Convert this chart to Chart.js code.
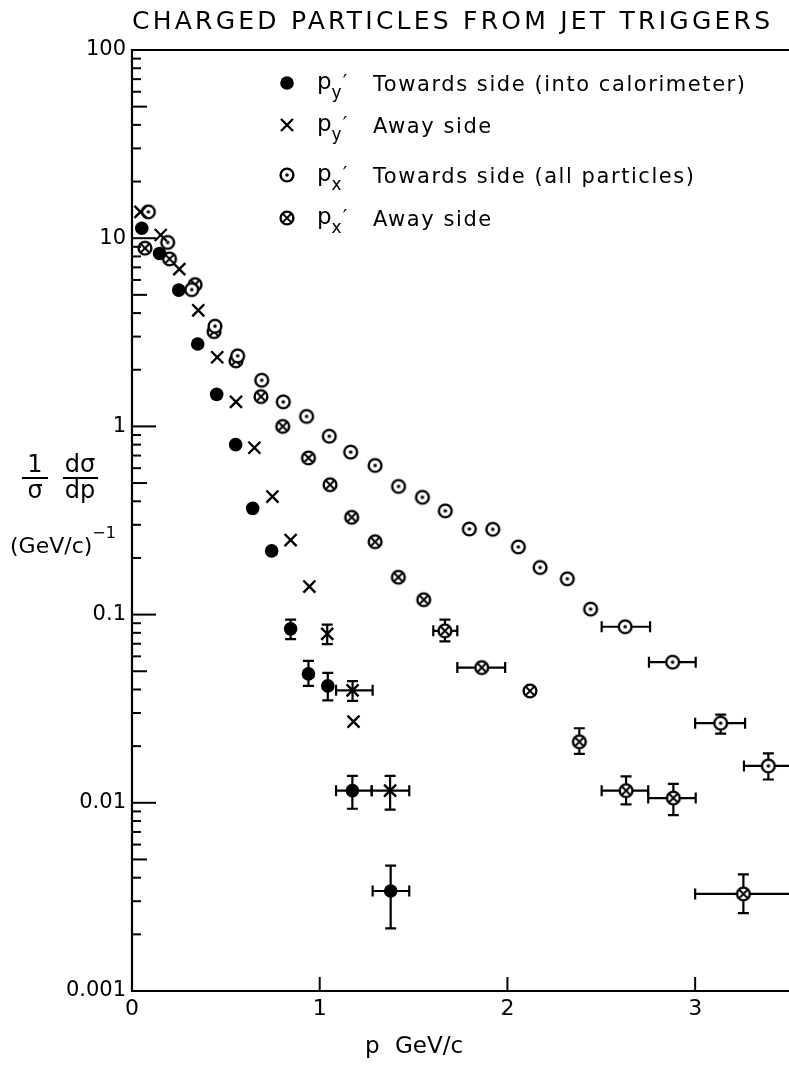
<!DOCTYPE html>
<html><head><meta charset="utf-8">
<script src="https://cdn.jsdelivr.net/npm/chart.js@4"></script>
<style>html,body{margin:0;padding:0;background:#fff}canvas{display:block}</style>
</head><body>
<canvas id="c" width="789" height="1070"></canvas>
<script>
// ---------- text & ticks ----------
const chartTitle = 'CHARGED PARTICLES FROM JET TRIGGERS';
const xTickValues = [0, 1, 2, 3];
const xTickLabels = ['0', '1', '2', '3'];
const yTickDecades = [0.001, 0.01, 0.1, 1, 10, 100];
const yTickLabels = ['0.001', '0.01', '0.1', '1', '10', '100'];
const xAxisTitle = ['p', 'GeV/c'];
const legendSubs = ['y', 'y', 'x', 'x'];
const legendTexts = ['Towards side (into calorimeter)', 'Away side', 'Towards side (all particles)', 'Away side'];

// ---------- series 1: p_y' towards side (filled circles) ----------
const pyTowardsX = [0.052, 0.147, 0.249, 0.35, 0.451, 0.552, 0.643, 0.744, 0.845, 0.94, 1.043, 1.174, 1.378];
const pyTowardsY = [11.3, 8.3, 5.3, 2.74, 1.48, 0.80, 0.367, 0.218, 0.084, 0.0484, 0.0418, 0.0116, 0.0034];
const pyTowardsYLo = [null, null, null, null, null, null, null, null, 0.074, 0.0418, 0.035, 0.0093, 0.00215];
const pyTowardsYHi = [null, null, null, null, null, null, null, null, 0.094, 0.0568, 0.049, 0.0139, 0.00464];
const pyTowardsXLo = [null, null, null, null, null, null, null, null, null, null, null, 1.087, 1.282];
const pyTowardsXHi = [null, null, null, null, null, null, null, null, null, null, null, 1.277, 1.477];

// ---------- series 2: p_y' away side (crosses) ----------
const pyAwayX = [0.045, 0.153, 0.252, 0.353, 0.454, 0.554, 0.652, 0.748, 0.845, 0.945, 1.04, 1.175, 1.18, 1.375];
const pyAwayY = [13.8, 10.4, 6.85, 4.14, 2.33, 1.35, 0.77, 0.424, 0.249, 0.141, 0.079, 0.0396, 0.027, 0.0116];
const pyAwayYLo = [null, null, null, null, null, null, null, null, null, null, 0.0697, 0.0348, null, 0.0092];
const pyAwayYHi = [null, null, null, null, null, null, null, null, null, null, 0.0885, 0.0443, null, 0.0139];
const pyAwayXLo = [null, null, null, null, null, null, null, null, null, null, null, 1.087, null, 1.277];
const pyAwayXHi = [null, null, null, null, null, null, null, null, null, null, null, 1.282, null, 1.477];

// ---------- series 3: p_x' towards side (circle with dot) ----------
const pxTowardsX = [0.087, 0.19, 0.318, 0.442, 0.563, 0.691, 0.806, 0.93, 1.051, 1.165, 1.295, 1.42, 1.547, 1.669, 1.797, 1.922, 2.058, 2.174, 2.319, 2.443, 2.627, 2.88, 3.136, 3.39];
const pxTowardsY = [13.8, 9.5, 5.33, 3.41, 2.37, 1.76, 1.35, 1.13, 0.887, 0.73, 0.62, 0.48, 0.42, 0.356, 0.285, 0.284, 0.229, 0.178, 0.155, 0.107, 0.0862, 0.0559, 0.0265, 0.0157];
const pxTowardsYLo = [null, null, null, null, null, null, null, null, null, null, null, null, null, null, null, null, null, null, null, null, null, null, 0.0233, 0.0133];
const pxTowardsYHi = [null, null, null, null, null, null, null, null, null, null, null, null, null, null, null, null, null, null, null, null, null, null, 0.0294, 0.0183];
const pxTowardsXLo = [null, null, null, null, null, null, null, null, null, null, null, null, null, null, null, null, null, null, null, null, 2.502, 2.754, 3.0, 3.26];
const pxTowardsXHi = [null, null, null, null, null, null, null, null, null, null, null, null, null, null, null, null, null, null, null, null, 2.76, 3.003, 3.266, 3.52];

// ---------- series 4: p_x' away side (circle with cross) ----------
const pxAwayX = [0.069, 0.2, 0.336, 0.437, 0.554, 0.687, 0.803, 0.94, 1.055, 1.17, 1.295, 1.419, 1.554, 1.667, 1.863, 2.12, 2.383, 2.632, 2.884, 3.257];
const pxAwayY = [8.85, 7.76, 5.67, 3.19, 2.23, 1.44, 1.0, 0.68, 0.49, 0.329, 0.244, 0.158, 0.12, 0.082, 0.0523, 0.0393, 0.0211, 0.0116, 0.0106, 0.00328];
const pxAwayYLo = [null, null, null, null, null, null, null, null, null, null, null, null, null, 0.072, null, null, 0.0182, 0.0098, 0.0086, 0.00259];
const pxAwayYHi = [null, null, null, null, null, null, null, null, null, null, null, null, null, 0.094, null, null, 0.0249, 0.0138, 0.0126, 0.00417];
const pxAwayXLo = [null, null, null, null, null, null, null, null, null, null, null, null, null, 1.605, 1.733, null, null, 2.502, 2.75, 3.0];
const pxAwayXHi = [null, null, null, null, null, null, null, null, null, null, null, null, null, 1.733, 1.988, null, null, 2.75, 3.003, 3.51];

// ---------- markers ----------
function makeRing(kind) {
  const s = 18, c = document.createElement('canvas');
  c.width = s; c.height = s;
  const g = c.getContext('2d'), cx = s / 2, cy = s / 2, r = 6.4;
  g.strokeStyle = '#000'; g.fillStyle = '#fff'; g.lineWidth = 2.4;
  g.beginPath(); g.arc(cx, cy, r, 0, Math.PI * 2); g.fill(); g.stroke();
  if (kind === 'dot') {
    g.fillStyle = '#000'; g.beginPath(); g.arc(cx, cy, 1.8, 0, Math.PI * 2); g.fill();
  } else {
    const d = r * 0.62; g.lineWidth = 1.9;
    g.beginPath(); g.moveTo(cx - d, cy - d); g.lineTo(cx + d, cy + d);
    g.moveTo(cx + d, cy - d); g.lineTo(cx - d, cy + d); g.stroke();
  }
  return c;
}
const ringDot = makeRing('dot');
const ringCross = makeRing('cross');

function pts(xs, ys) { return xs.map((x, i) => ({ x: x, y: ys[i] })); }

const datasets = [
  { label: "p_y' towards", data: pts(pyTowardsX, pyTowardsY), pointStyle: 'circle', pointRadius: 6.8,
    backgroundColor: '#000', borderColor: '#000', borderWidth: 0,
    eXLo: pyTowardsXLo, eXHi: pyTowardsXHi, eYLo: pyTowardsYLo, eYHi: pyTowardsYHi },
  { label: "p_y' away", data: pts(pyAwayX, pyAwayY), pointStyle: 'crossRot', pointRadius: 8.5,
    backgroundColor: '#000', borderColor: '#000', borderWidth: 2.4,
    eXLo: pyAwayXLo, eXHi: pyAwayXHi, eYLo: pyAwayYLo, eYHi: pyAwayYHi },
  { label: "p_x' towards", data: pts(pxTowardsX, pxTowardsY), pointStyle: ringDot, pointRadius: 7,
    backgroundColor: '#000', borderColor: '#000',
    eXLo: pxTowardsXLo, eXHi: pxTowardsXHi, eYLo: pxTowardsYLo, eYHi: pxTowardsYHi },
  { label: "p_x' away", data: pts(pxAwayX, pxAwayY), pointStyle: ringCross, pointRadius: 7,
    backgroundColor: '#000', borderColor: '#000',
    eXLo: pxAwayXLo, eXHi: pxAwayXHi, eYLo: pxAwayYLo, eYHi: pxAwayYHi }
];

const SANS = '"DejaVu Sans", "Liberation Sans", sans-serif';

const errorBars = {
  id: 'errorBars',
  beforeDatasetsDraw(chart) {
    const { ctx, chartArea: a, scales: { x: xs, y: ys } } = chart;
    ctx.save();
    ctx.beginPath(); ctx.rect(a.left, a.top, a.right - a.left, a.bottom - a.top); ctx.clip();
    ctx.strokeStyle = '#000'; ctx.lineWidth = 2.2;
    const cap = 5.5;
    chart.data.datasets.forEach(ds => {
      ds.data.forEach((p, i) => {
        const px = xs.getPixelForValue(p.x), py = ys.getPixelForValue(p.y);
        if (ds.eYLo[i] != null) {
          const y1 = ys.getPixelForValue(ds.eYLo[i]), y2 = ys.getPixelForValue(ds.eYHi[i]);
          ctx.beginPath();
          ctx.moveTo(px, y1); ctx.lineTo(px, y2);
          ctx.moveTo(px - cap, y1); ctx.lineTo(px + cap, y1);
          ctx.moveTo(px - cap, y2); ctx.lineTo(px + cap, y2);
          ctx.stroke();
        }
        if (ds.eXLo[i] != null) {
          const x1 = xs.getPixelForValue(ds.eXLo[i]), x2 = xs.getPixelForValue(ds.eXHi[i]);
          ctx.beginPath();
          ctx.moveTo(x1, py); ctx.lineTo(x2, py);
          ctx.moveTo(x1, py - cap); ctx.lineTo(x1, py + cap);
          ctx.moveTo(x2, py - cap); ctx.lineTo(x2, py + cap);
          ctx.stroke();
        }
      });
    });
    ctx.restore();
  }
};

function drawSpaced(ctx, text, x, y, target) {
  ctx.letterSpacing = '0px';
  const w = ctx.measureText(text).width;
  const sp = target ? (target - w) / Math.max(1, text.length - 1) : 0;
  ctx.letterSpacing = sp + 'px';
  ctx.fillText(text, x, y);
  ctx.letterSpacing = '0px';
  return sp;
}

const decor = {
  id: 'decor',
  afterDraw(chart) {
    const { ctx, chartArea: a, scales: { x: xs, y: ys } } = chart;
    ctx.save();
    ctx.strokeStyle = '#000'; ctx.fillStyle = '#000'; ctx.lineCap = 'butt';
    // frame
    ctx.lineWidth = 2.2;
    ctx.beginPath();
    ctx.moveTo(a.right, a.top); ctx.lineTo(a.left, a.top); ctx.lineTo(a.left, a.bottom); ctx.lineTo(a.right, a.bottom);
    ctx.stroke();
    // y ticks (inward)
    ctx.lineWidth = 2;
    ys.ticks.forEach(t => {
      const v = t.value, py = ys.getPixelForValue(v);
      const m = Math.round(v / Math.pow(10, Math.floor(Math.log10(v) + 1e-9)));
      const len = m === 1 ? 24 : (m === 5 ? 15 : 9);
      ctx.beginPath(); ctx.moveTo(a.left, py); ctx.lineTo(a.left + len, py); ctx.stroke();
    });
    // x ticks (inward)
    xs.ticks.forEach(t => {
      if (t.value === 0) return;
      const px = xs.getPixelForValue(t.value);
      ctx.beginPath(); ctx.moveTo(px, a.bottom); ctx.lineTo(px, a.bottom - 14); ctx.stroke();
    });

    // title
    ctx.textAlign = 'left'; ctx.textBaseline = 'alphabetic';
    ctx.font = '25px ' + SANS;
    drawSpaced(ctx, chartTitle, 132, 29, 638);

    // legend
    const rows = [83, 125, 175, 218];
    let sp = null;
    rows.forEach((ry, i) => {
      const sx = 287;
      if (i === 0) { ctx.beginPath(); ctx.arc(sx, ry, 6.8, 0, Math.PI * 2); ctx.fill(); }
      else if (i === 1) {
        ctx.lineWidth = 2.4; const d = 6;
        ctx.beginPath(); ctx.moveTo(sx - d, ry - d); ctx.lineTo(sx + d, ry + d);
        ctx.moveTo(sx + d, ry - d); ctx.lineTo(sx - d, ry + d); ctx.stroke();
      } else {
        ctx.drawImage(i === 2 ? ringDot : ringCross, sx - 9, ry - 9);
      }
      ctx.font = '23px ' + SANS;
      ctx.fillText('p', 317, ry + 6);
      const pw = ctx.measureText('p').width;
      ctx.font = '17px ' + SANS;
      ctx.fillText(legendSubs[i], 317 + pw, ry + 15);
      const sw = ctx.measureText(legendSubs[i]).width;
      ctx.font = '20px ' + SANS;
      ctx.fillText('\u2032', 317 + pw + sw + 1, ry + 5);
      ctx.font = '21px ' + SANS;
      if (sp === null) {
        sp = drawSpaced(ctx, legendTexts[i], 373, ry + 8, 372);
      } else {
        ctx.letterSpacing = sp + 'px';
        ctx.fillText(legendTexts[i], 373, ry + 8);
        ctx.letterSpacing = '0px';
      }
    });

    // y axis title: 1/sigma dsigma/dp (GeV/c)^-1
    ctx.textAlign = 'center';
    ctx.font = '24px ' + SANS;
    ctx.fillText('1', 35, 472);
    ctx.fillText('\u03C3', 35, 498);
    ctx.fillText('d\u03C3', 80, 472);
    ctx.fillText('dp', 80, 498);
    ctx.lineWidth = 2;
    ctx.beginPath(); ctx.moveTo(22, 478); ctx.lineTo(48, 478); ctx.moveTo(63, 478); ctx.lineTo(98, 478); ctx.stroke();
    ctx.textAlign = 'left';
    ctx.font = '22px ' + SANS;
    ctx.fillText('(GeV/c)', 10, 553);
    const gw = ctx.measureText('(GeV/c)').width;
    ctx.font = '16px ' + SANS;
    ctx.fillText('\u2212' + '1', 10 + gw, 538);

    // x axis title
    ctx.font = '23px ' + SANS;
    ctx.fillText(xAxisTitle[0], 365, 1053);
    ctx.fillText(xAxisTitle[1], 395, 1053);
    ctx.restore();
  }
};

new Chart(document.getElementById('c'), {
  type: 'scatter',
  data: { datasets: datasets },
  options: {
    responsive: false, animation: false, events: [], devicePixelRatio: 1,
    layout: { autoPadding: false, padding: { top: 50, right: 0, left: 0, bottom: 0 } },
    plugins: { legend: { display: false }, title: { display: false }, tooltip: { enabled: false } },
    scales: {
      x: {
        type: 'linear', min: 0, max: 3.5,
        grid: { display: false, drawTicks: false }, border: { display: false },
        afterBuildTicks: s => { s.ticks = xTickValues.map(v => ({ value: v })); },
        afterFit: s => { s.height = 79; s.paddingLeft = 0; s.paddingRight = 0; },
        ticks: { autoSkip: false, maxRotation: 0, padding: 5, color: '#000', font: { family: SANS, size: 22 },
          callback: (v) => { const i = xTickValues.indexOf(v); return i >= 0 ? xTickLabels[i] : ''; } }
      },
      y: {
        type: 'logarithmic', min: 0.001, max: 100,
        grid: { display: false, drawTicks: false }, border: { display: false },
        afterBuildTicks: s => {
          const t = [];
          for (let k = 0; k < yTickDecades.length - 1; k++) {
            for (let m = 1; m <= 9; m++) t.push({ value: m * yTickDecades[k] });
          }
          t.push({ value: yTickDecades[yTickDecades.length - 1] });
          s.ticks = t;
        },
        afterFit: s => { s.width = 132; s.paddingTop = 0; s.paddingBottom = 0; },
        ticks: { autoSkip: false, padding: 6, color: '#000', font: { family: SANS, size: 21 },
          callback: (v) => {
            const i = yTickDecades.findIndex(d => Math.abs(d - v) / d < 1e-6);
            return i >= 0 ? yTickLabels[i] : '';
          } }
      }
    }
  },
  plugins: [errorBars, decor]
});
</script>
</body></html>
